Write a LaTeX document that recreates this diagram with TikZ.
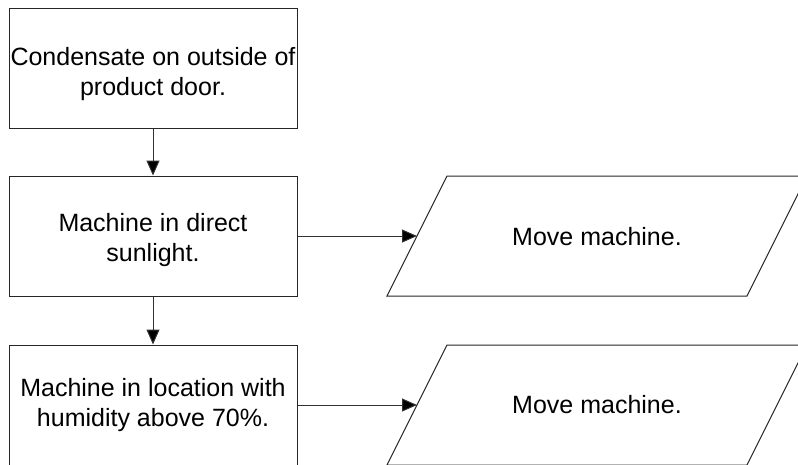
\documentclass[tikz,border=0pt]{standalone}
\usepackage{fontspec}
\setmainfont{Liberation Sans}
\usetikzlibrary{arrows.meta}
\begin{document}
\begin{tikzpicture}[x=1pt,y=-1pt,
  stepbox/.style={draw=black!85,line width=1pt,fill=white,minimum width=288pt,minimum height=120pt,inner sep=0pt},
  txt/.style={inner sep=0pt,align=center,font=\fontsize{25}{30}\selectfont},
  para/.style={draw=black!85,line width=1pt,fill=white},
  conn/.style={draw=black!80,line width=1pt,-{Triangle[length=15pt,width=13pt,fill=black]}}]
\useasboundingbox (0,0) rectangle (798,464);
\clip (0,0) rectangle (798,464);
\node[stepbox] (b1) at (153,68.5) {};
\node[stepbox] (b2) at (153,236) {};
\node[stepbox] (b3) at (153,405) {};
\node[txt] (t1) at (153,74) {Condensate on outside of\\product door.};
\node[txt] (t2) at (153,240) {Machine in direct\\sunlight.};
\node[txt] (t3) at (153,405) {Machine in location with\\humidity above 70\%.};
% parallelogram 1
\draw[para] (387,296) -- (447,176) -- (807,176) -- (747,296) -- cycle;
\coordinate (p1w) at (417,236);
\node[txt] (p1) at (597,237) {Move machine.};
% parallelogram 2
\draw[para] (387,465) -- (447,345) -- (807,345) -- (747,465) -- cycle;
\coordinate (p2w) at (417,405);
\node[txt] (p2) at (597,405) {Move machine.};
\draw[conn] (b1.south) -- (b2.north);
\draw[conn] (b2.south) -- (b3.north);
\draw[conn] (b2.east) -- (p1w);
\draw[conn] (b3.east) -- (p2w);
\end{tikzpicture}
\end{document}
